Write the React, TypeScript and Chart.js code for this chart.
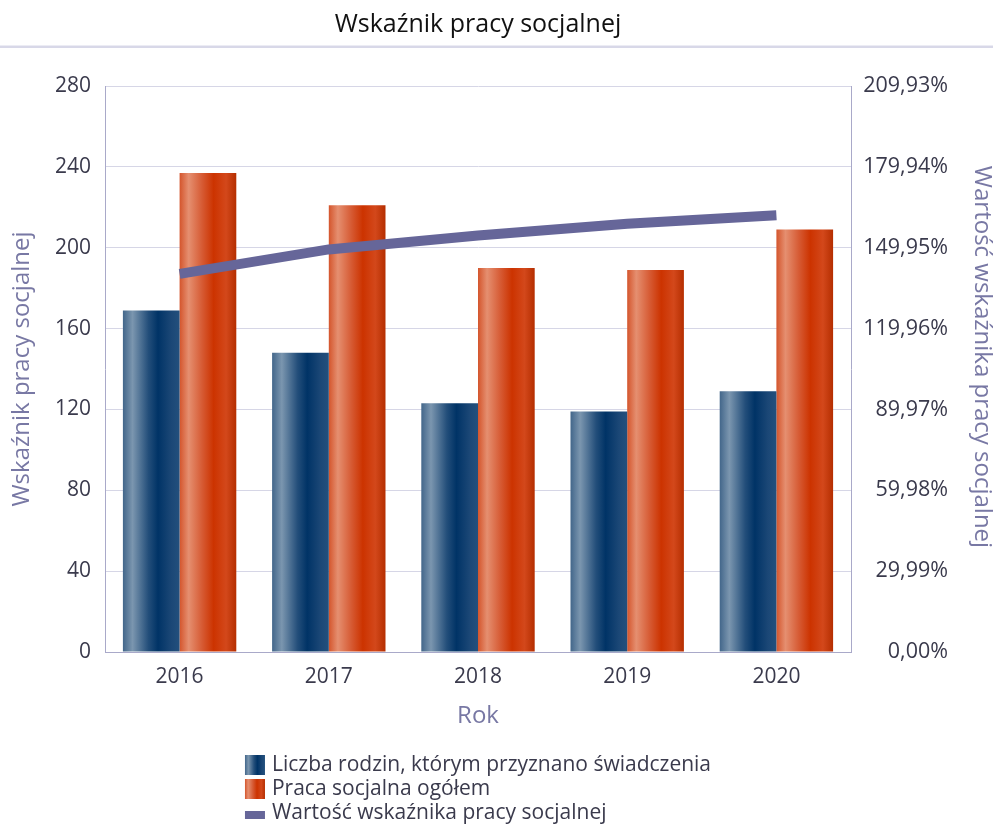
import React, { useEffect, useRef } from 'react';
import { Chart, registerables } from 'chart.js';

Chart.register(...registerables);

// ---- data ----
const YEARS = ['2016', '2017', '2018', '2019', '2020'];
const FAMILIES = [169, 148, 123, 119, 129];
const SOCIAL_WORK = [237, 221, 190, 189, 209];
const INDEX_PCT = [140.24, 149.32, 154.47, 158.82, 162.02];
const LEFT_TICKS = [0, 40, 80, 120, 160, 200, 240, 280];
const RIGHT_TICKS = [0, 29.99, 59.98, 89.97, 119.96, 149.95, 179.94, 209.93];
const SERIES_LABELS = [
  'Liczba rodzin, którym przyznano świadczenia',
  'Praca socjalna ogółem',
  'Wartość wskaźnika pracy socjalnej',
];
const TITLE = 'Wskaźnik pracy socjalnej';
const X_TITLE = 'Rok';
const Y_TITLE = 'Wskaźnik pracy socjalnej';
const Y1_TITLE = 'Wartość wskaźnika pracy socjalnej';

// ---- styles ----
const FONT = "'Open Sans', sans-serif";
const TICK_COLOR = '#3a3a4c';
const AXIS_TITLE_COLOR = '#7878a4';
const GRID_COLOR = '#d6d6e6';
const BORDER_COLOR = '#a9a9c9';
const LINE_COLOR = '#666699';
const NAVY_STOPS: [number, string][] = [
  [0, '#42668a'],
  [0.17, '#7b96af'],
  [0.45, '#234e7a'],
  [0.62, '#003366'],
  [0.85, '#1b4776'],
  [1, '#23507d'],
];
const ORANGE_STOPS: [number, string][] = [
  [0, '#d4552c'],
  [0.16, '#e58f70'],
  [0.4, '#d65a33'],
  [0.6, '#cc3300'],
  [0.82, '#d3481b'],
  [1, '#b52e00'],
];
const BAR_STOPS = [NAVY_STOPS, ORANGE_STOPS];

function hGrad(ctx: CanvasRenderingContext2D, x0: number, x1: number, stops: [number, string][]) {
  const g = ctx.createLinearGradient(x0, 0, x1, 0);
  stops.forEach(([o, c]) => g.addColorStop(o, c));
  return g;
}

const barGradientPlugin = {
  id: 'barGradient',
  beforeDatasetsDraw(chart: any) {
    const ctx = chart.ctx;
    BAR_STOPS.forEach((stops, di) => {
      const meta = chart.getDatasetMeta(di);
      meta.data.forEach((el: any) => {
        const half = el.width / 2;
        el.options = Object.assign({}, el.options, {
          backgroundColor: hGrad(ctx, el.x - half, el.x + half, stops),
        });
      });
    });
  },
};

const decorPlugin = {
  id: 'decor',
  afterDraw(chart: any) {
    const ctx: CanvasRenderingContext2D = chart.ctx;
    const area = chart.chartArea;
    const cx = (area.left + area.right) / 2;
    ctx.save();
    // title
    ctx.font = `25px ${FONT}`;
    ctx.fillStyle = '#111111';
    ctx.textAlign = 'center';
    ctx.textBaseline = 'middle';
    ctx.fillText(TITLE, cx, 25);
    // separator
    ctx.fillStyle = '#ececf4';
    ctx.fillRect(0, 45, chart.width, 1);
    ctx.fillStyle = '#d8d8e8';
    ctx.fillRect(0, 46, chart.width, 2);
    // right axis title
    ctx.save();
    ctx.font = `24px ${FONT}`;
    ctx.fillStyle = AXIS_TITLE_COLOR;
    ctx.translate(chart.width - 11, (area.top + area.bottom) / 2 - 12);
    ctx.rotate(Math.PI / 2);
    ctx.fillText(Y1_TITLE, 0, 0);
    ctx.restore();
    // legend
    ctx.font = `21px ${FONT}`;
    const widest = Math.max(...SERIES_LABELS.map((t) => ctx.measureText(t).width));
    const boxW = 20;
    const gap = 7;
    const left = cx - (boxW + gap + widest) / 2;
    const rows = [765, 789, 813].map((v) => v - (824 - chart.height));
    ctx.textAlign = 'left';
    ctx.textBaseline = 'middle';
    SERIES_LABELS.forEach((label, i) => {
      const cy = rows[i];
      if (i < 2) {
        ctx.fillStyle = hGrad(ctx, left, left + boxW, BAR_STOPS[i]);
        ctx.fillRect(left, cy - 10, boxW, 20);
      } else {
        ctx.fillStyle = LINE_COLOR;
        ctx.fillRect(left, cy - 2, boxW, 8);
      }
      ctx.fillStyle = TICK_COLOR;
      ctx.fillText(label, left + boxW + gap, cy);
    });
    ctx.restore();
  },
};

export default function App() {
  const ref = useRef<HTMLCanvasElement>(null);

  useEffect(() => {
    if (!ref.current) return;
    Chart.defaults.font.family = FONT;
    const chart = new Chart(ref.current, {
      type: 'bar',
      data: {
        labels: YEARS,
        datasets: [
          {
            type: 'bar',
            label: SERIES_LABELS[0],
            data: FAMILIES,
            backgroundColor: '#003366',
            borderWidth: 0,
            yAxisID: 'y',
            order: 1,
            categoryPercentage: 0.76,
            barPercentage: 1,
          },
          {
            type: 'bar',
            label: SERIES_LABELS[1],
            data: SOCIAL_WORK,
            backgroundColor: '#cc3300',
            borderWidth: 0,
            yAxisID: 'y',
            order: 1,
            categoryPercentage: 0.76,
            barPercentage: 1,
          },
          {
            type: 'line',
            label: SERIES_LABELS[2],
            data: INDEX_PCT,
            borderColor: LINE_COLOR,
            backgroundColor: LINE_COLOR,
            borderWidth: 10,
            borderCapStyle: 'butt',
            pointRadius: 0,
            tension: 0,
            fill: false,
            yAxisID: 'y1',
            order: 0,
          } as any,
        ],
      },
      options: {
        animation: false,
        responsive: false,
        devicePixelRatio: 1,
        layout: { padding: { top: 86, bottom: 92, left: 0, right: 45 } },
        plugins: {
          legend: { display: false },
          title: { display: false },
          tooltip: { enabled: false },
        },
        scales: {
          x: {
            grid: { display: false, drawTicks: false },
            border: { display: true, color: BORDER_COLOR, width: 1 },
            ticks: { color: TICK_COLOR, font: { size: 21 }, padding: 12 },
            title: {
              display: true,
              text: X_TITLE,
              color: AXIS_TITLE_COLOR,
              font: { size: 24, lineHeight: 1 },
              padding: { top: 0, bottom: 4 },
            },
            afterFit(s: any) {
              s.height = 80;
            },
          },
          y: {
            position: 'left',
            min: 0,
            max: 280,
            grid: { color: GRID_COLOR, drawTicks: false },
            border: { display: true, color: BORDER_COLOR, width: 1 },
            ticks: { color: TICK_COLOR, font: { size: 21 }, padding: 14 },
            afterBuildTicks(s: any) {
              s.ticks = LEFT_TICKS.map((v) => ({ value: v }));
            },
            title: {
              display: true,
              text: Y_TITLE,
              color: AXIS_TITLE_COLOR,
              font: { size: 24, lineHeight: 1 },
              padding: { top: 10, bottom: 0 },
            },
            afterFit(s: any) {
              s.width = 105;
            },
          },
          y1: {
            position: 'right',
            min: 0,
            max: 209.93,
            grid: { drawOnChartArea: false, drawTicks: false },
            border: { display: true, color: BORDER_COLOR, width: 1 },
            ticks: {
              color: TICK_COLOR,
              font: { size: 21.5 },
              padding: 10,
              crossAlign: 'far',
              callback: (v: any) => Number(v).toFixed(2).replace('.', ',') + '%',
            },
            afterBuildTicks(s: any) {
              s.ticks = RIGHT_TICKS.map((v) => ({ value: v }));
            },
            title: { display: false },
            afterFit(s: any) {
              s.width = 97;
            },
          },
        },
      } as any,
      plugins: [barGradientPlugin, decorPlugin],
    });
    return () => chart.destroy();
  }, []);

  return (
    <div style={{ position: 'absolute', left: 0, top: 0, width: 993, height: 824 }}>
      <canvas ref={ref} width={993} height={824} style={{ display: 'block' }} />
    </div>
  );
}
